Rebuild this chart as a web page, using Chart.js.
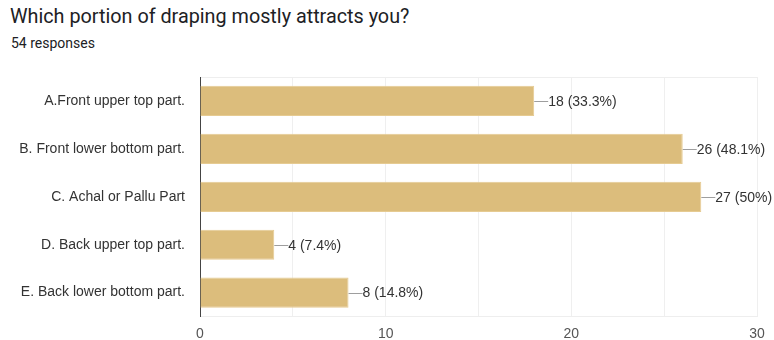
<!DOCTYPE html>
<html>
<head>
<meta charset="utf-8">
<script src="https://cdn.jsdelivr.net/npm/chart.js@4"></script>
<style>
  body { margin: 0; background: #fff; font-family: Roboto, Arial, sans-serif; }
  #wrap { position: relative; width: 774px; height: 340px; }
  #title { position: absolute; left: 10px; top: 5px; font-size: 19.8px; color: #202124; }
  #sub { position: absolute; left: 11px; top: 35px; font-size: 14px; color: #202124; }
  #box { position: absolute; left: 0; top: 0; width: 774px; height: 340px; }
</style>
</head>
<body>
<div id="wrap">
  <div id="title">Which portion of draping mostly attracts you?</div>
  <div id="sub">54 responses</div>
  <div id="box"><canvas id="chart"></canvas></div>
</div>
<script>
  const categories = [
    'A.Front upper top part.',
    'B. Front lower bottom part.',
    'C. Achal or Pallu Part',
    'D. Back upper top part.',
    'E. Back lower bottom part.'
  ];
  const counts = [18, 26, 27, 4, 8];
  const percents = ['33.3%', '48.1%', '50%', '7.4%', '14.8%'];
  const xTicks = [0, 10, 20, 30];

  const labelFont = '"Liberation Sans", Arial, sans-serif';

  // leader line + "n (p%)" next to each bar end
  const barLabels = {
    id: 'barLabels',
    afterDatasetsDraw(chart) {
      const ctx = chart.ctx;
      const meta = chart.getDatasetMeta(0);
      ctx.save();
      ctx.font = '14px ' + labelFont;
      ctx.textBaseline = 'middle';
      ctx.textAlign = 'left';
      meta.data.forEach((bar, i) => {
        ctx.strokeStyle = '#9e9e9e';
        ctx.lineWidth = 1;
        ctx.beginPath();
        ctx.moveTo(bar.x, Math.round(bar.y) + 0.5);
        ctx.lineTo(bar.x + 14, Math.round(bar.y) + 0.5);
        ctx.stroke();
        ctx.fillStyle = '#333';
        ctx.fillText(`${counts[i]} (${percents[i]})`, bar.x + 14, bar.y + 1);
      });
      ctx.restore();
    }
  };

  new Chart(
    document.getElementById('chart'),
    {
      type: 'bar',
      data: {
        labels: categories,
        datasets: [{
          data: counts,
          backgroundColor: '#dcbd7c',
          borderColor: '#e6cb92',
          borderWidth: 1,
          categoryPercentage: 1,
          barPercentage: 0.63
        }]
      },
      options: {
        indexAxis: 'y',
        responsive: true,
        maintainAspectRatio: false,
        animation: false,
        layout: {
          padding: { top: 77, right: 17, left: 0, bottom: 0 }
        },
        plugins: {
          legend: { display: false },
          tooltip: { enabled: false }
        },
        scales: {
          x: {
            min: 0,
            max: 30,
            afterFit: (scale) => { scale.height = 23; },
            border: { color: '#eeeeee' },
            grid: {
              color: '#efefef',
              drawTicks: false
            },
            ticks: {
              stepSize: 5,
              padding: 9,
              color: '#555',
              font: { size: 14, family: labelFont },
              callback: (v) => xTicks.includes(v) ? v : ''
            }
          },
          y: {
            afterFit: (scale) => { scale.width = 200; },
            border: { color: '#444444', width: 1 },
            grid: {
              drawTicks: false,
              color: (c) => c.index === 0 ? '#eeeeee' : 'rgba(0,0,0,0)'
            },
            ticks: {
              padding: 15,
              color: '#333',
              font: { size: 14, family: labelFont }
            }
          }
        }
      },
      plugins: [barLabels]
    }
  );
</script>
</body>
</html>
